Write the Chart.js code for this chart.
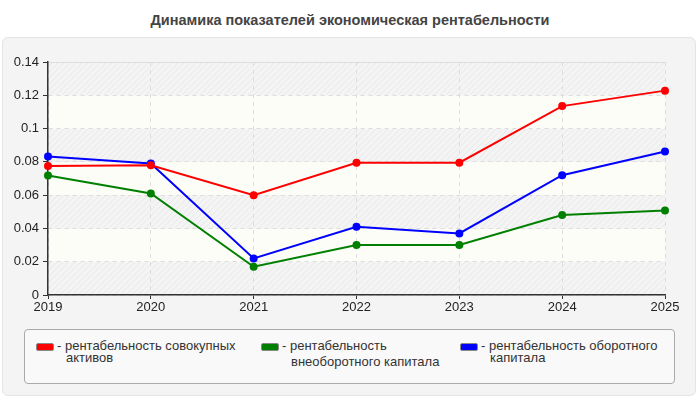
<!DOCTYPE html>
<html>
<head>
<meta charset="utf-8">
<script src="https://cdn.jsdelivr.net/npm/chart.js@4"></script>
<style>
    body { margin: 0; background: #fff; font-family: "Liberation Sans", Arial, sans-serif; }
    #wrap { position: relative; width: 700px; height: 400px; overflow: hidden; }
    #title { position: absolute; left: 0; top: 12px; width: 700px; text-align: center; font-weight: bold; font-size: 14.5px; color: #444; }
    #panel { position: absolute; left: 2px; top: 37px; width: 694px; height: 359px; background: #f4f4f4; border: 1px solid #e4e4e4; border-radius: 6px; box-sizing: border-box; }
    #chartBox { position: absolute; left: 0; top: 37px; width: 700px; height: 290px; }
    #legend { position: absolute; left: 24px; top: 329px; width: 651px; height: 55px; background: #f9f9f9; border: 1px solid #aaa; border-radius: 4px; box-sizing: border-box; font-size: 13px; color: #333; }
    .item { position: absolute; top: 10px; display: flex; align-items: flex-start; line-height: 12px; }
    .sw { width: 16px; height: 6px; border-radius: 2px; margin-top: 3px; margin-right: 3px; border: 1px solid #888; }
</style>
</head>
<body>
<div id="wrap">
    <div id="title">Динамика показателей экономическая рентабельности</div>
    <div id="panel"></div>
    <div id="chartBox"><canvas id="chart" width="700" height="290"></canvas></div>
    <div id="legend"></div>
</div>
<script>
    // data
    const years = ['2019', '2020', '2021', '2022', '2023', '2024', '2025'];
    const assetsReturn = [0.0775, 0.078, 0.060, 0.0795, 0.0795, 0.1135, 0.1228];
    const fixedCapitalReturn = [0.0718, 0.061, 0.017, 0.030, 0.030, 0.048, 0.0508];
    const workingCapitalReturn = [0.0832, 0.079, 0.022, 0.041, 0.037, 0.072, 0.0862];
    const seriesNames = [
        ['- рентабельность совокупных', 'активов'],
        ['- рентабельность', 'внеоборотного капитала'],
        ['- рентабельность оборотного', 'капитала']
    ];
    const seriesColors = ['#ff0000', '#008000', '#0000ff'];

    // hatch pattern for the grey bands
    function makeHatch() {
        const c = document.createElement('canvas');
        c.width = 6; c.height = 6;
        const g = c.getContext('2d');
        g.fillStyle = '#f4f4f4';
        g.fillRect(0, 0, 6, 6);
        g.strokeStyle = '#e8e8e8';
        g.lineWidth = 1;
        g.beginPath();
        g.moveTo(0, 6); g.lineTo(6, 0);
        g.moveTo(-1, 1); g.lineTo(1, -1);
        g.moveTo(5, 7); g.lineTo(7, 5);
        g.stroke();
        return c;
    }

    const bandsPlugin = {
        id: 'bands',
        beforeDraw(chart) {
            const { ctx, chartArea, scales } = chart;
            const y = scales.y;
            const hatch = ctx.createPattern(makeHatch(), 'repeat');
            ctx.save();
            const ticks = y.ticks;
            for (let i = 0; i < ticks.length - 1; i++) {
                const y0 = y.getPixelForValue(ticks[i].value);
                const y1 = y.getPixelForValue(ticks[i + 1].value);
                ctx.fillStyle = i % 2 === 0 ? hatch : '#fdfdf8';
                ctx.fillRect(chartArea.left, y1, chartArea.right - chartArea.left, y0 - y1);
            }
            ctx.strokeStyle = '#dddddd';
            ctx.lineWidth = 1;
            ctx.beginPath();
            ctx.moveTo(chartArea.left, chartArea.top + 0.5);
            ctx.lineTo(chartArea.right, chartArea.top + 0.5);
            ctx.stroke();
            ctx.restore();
        }
    };

    const mk = (label, data, color) => ({
        label: label.join(' '),
        data: data,
        borderColor: color,
        backgroundColor: color,
        borderWidth: 2,
        pointRadius: 3,
        pointHoverRadius: 3,
        tension: 0
    });

    new Chart(document.getElementById('chart'), {
        type: 'line',
        data: {
            labels: years,
            datasets: [
                mk(seriesNames[0], assetsReturn, seriesColors[0]),
                mk(seriesNames[1], fixedCapitalReturn, seriesColors[1]),
                mk(seriesNames[2], workingCapitalReturn, seriesColors[2])
            ]
        },
        options: {
            responsive: false,
            animation: false,
            layout: { padding: { top: 25, right: 35, left: 0, bottom: 0 } },
            plugins: { legend: { display: false }, tooltip: { enabled: false } },
            scales: {
                x: {
                    offset: false,
                    grid: { color: '#dddddd', tickColor: '#333', tickLength: 4 },
                    border: { color: '#333', width: 1.5, dash: [4, 4] },
                    ticks: { color: '#222', font: { family: 'Liberation Sans', size: 13 }, padding: 1, maxRotation: 0 },
                    afterFit(s) { s.height = 32; }
                },
                y: {
                    min: 0,
                    max: 0.14,
                    grid: { color: '#dddddd', tickColor: '#333', tickLength: 5 },
                    border: { color: '#333', width: 1.5, dash: [4, 4] },
                    ticks: {
                        stepSize: 0.02,
                        color: '#222',
                        font: { family: 'Liberation Sans', size: 13 },
                        padding: 4,
                        callback: v => String(Number(v.toFixed(2)))
                    },
                    afterFit(s) { s.width = 48; }
                }
            }
        },
        plugins: [bandsPlugin]
    });

    // html legend
    const legend = document.getElementById('legend');
    const lefts = [11, 236, 435];
    seriesNames.forEach((name, i) => {
        const it = document.createElement('div');
        it.className = 'item';
        it.style.left = lefts[i] + 'px';
        const sw = document.createElement('div');
        sw.className = 'sw';
        sw.style.background = seriesColors[i];
        const tx = document.createElement('div');
        tx.innerHTML = name[0] + '<br>' + '<span style="display:inline-block;padding-left:9px;' + (i === 1 ? 'margin-top:4px;' : '') + '">' + name[1] + '</span>';
        it.appendChild(sw);
        it.appendChild(tx);
        legend.appendChild(it);
    });
</script>
</body>
</html>
